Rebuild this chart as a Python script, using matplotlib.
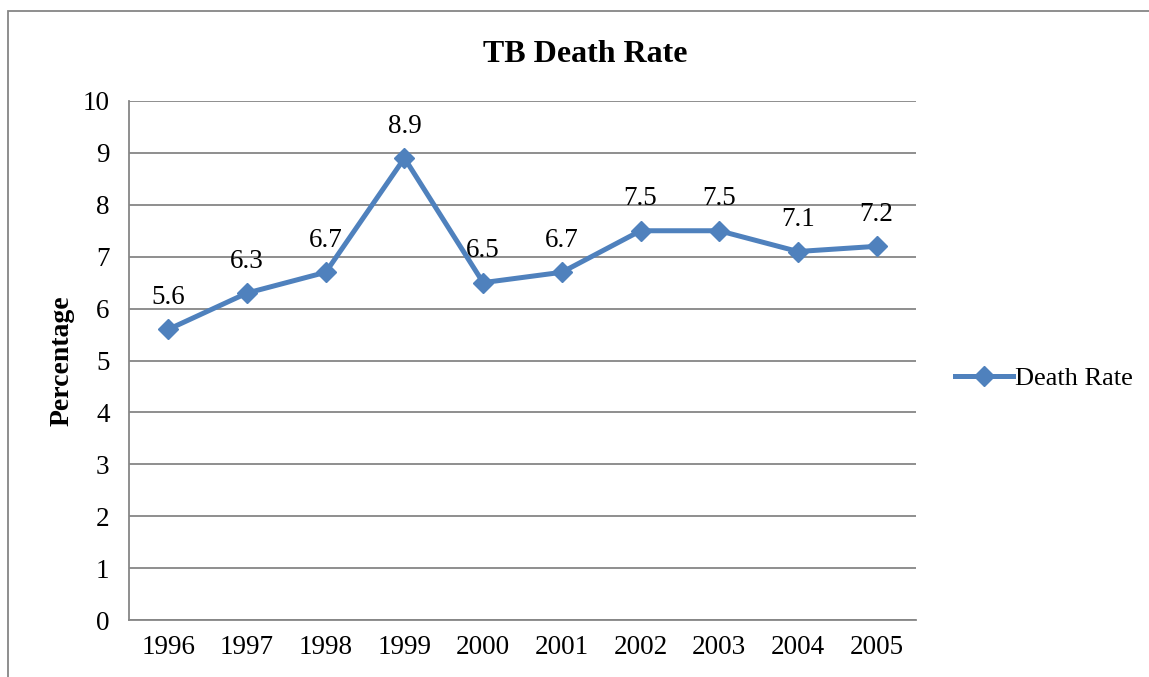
import matplotlib
matplotlib.use("Agg")
import matplotlib.pyplot as plt
from matplotlib.patches import Rectangle

years = ["1996", "1997", "1998", "1999", "2000", "2001", "2002", "2003", "2004", "2005"]
death_rate = [5.6, 6.3, 6.7, 8.9, 6.5, 6.7, 7.5, 7.5, 7.1, 7.2]

plt.rcParams['font.family'] = ['Liberation Serif', 'DejaVu Serif']

W, H = 1149, 677
fig = plt.figure(figsize=(W / 100, H / 100), dpi=100)

# outer chart border (partly cropped in the reference)
fig.patches.append(Rectangle((8 / W, -0.1), 1.2, (H - 11) / H + 0.1, transform=fig.transFigure,
                             fill=False, edgecolor='#868686', linewidth=1.3))

ax = fig.add_axes([129 / W, 1 - 620 / H, (916 - 129) / W, (620 - 101) / H])
x = list(range(len(years)))
line, = ax.plot(x, death_rate, color='#4F81BD', linewidth=3.6, marker='D',
                markersize=10.5, label='Death Rate')

for xi, v in zip(x, death_rate):
    ax.annotate(f"{v}", (xi, v), xytext=(0, 14), textcoords='offset points',
                ha='center', va='bottom', fontsize=19.5)

ax.set_xlim(-0.5, len(years) - 0.5)
ax.set_ylim(0, 10)
ax.set_yticks(range(0, 11))
ax.set_xticks(x)
ax.set_xticklabels(years)
ax.tick_params(axis='both', length=0, labelsize=19.5, pad=11)
ax.tick_params(axis='y', pad=14)
ax.grid(axis='y', color='#868686', linewidth=1.3)
ax.set_axisbelow(True)
for s in ['top', 'right']:
    ax.spines[s].set_visible(False)
ax.spines['left'].set_color('#868686')
ax.spines['bottom'].set_color('#868686')
ax.spines['left'].set_linewidth(1.3)
ax.spines['bottom'].set_linewidth(1.3)

ax.set_ylabel('Percentage', fontsize=20, fontweight='bold', labelpad=6)
fig.text(585 / W, 1 - 54 / H, 'TB Death Rate', ha='center', va='center',
         fontsize=23, fontweight='bold')

fig.legend(handles=[line], loc='center left', bbox_to_anchor=(944 / W, 1 - 378 / H),
           frameon=False, fontsize=19, handlelength=2.2, handletextpad=0.1,
           borderaxespad=0)

fig.savefig('out.png', dpi=100)
